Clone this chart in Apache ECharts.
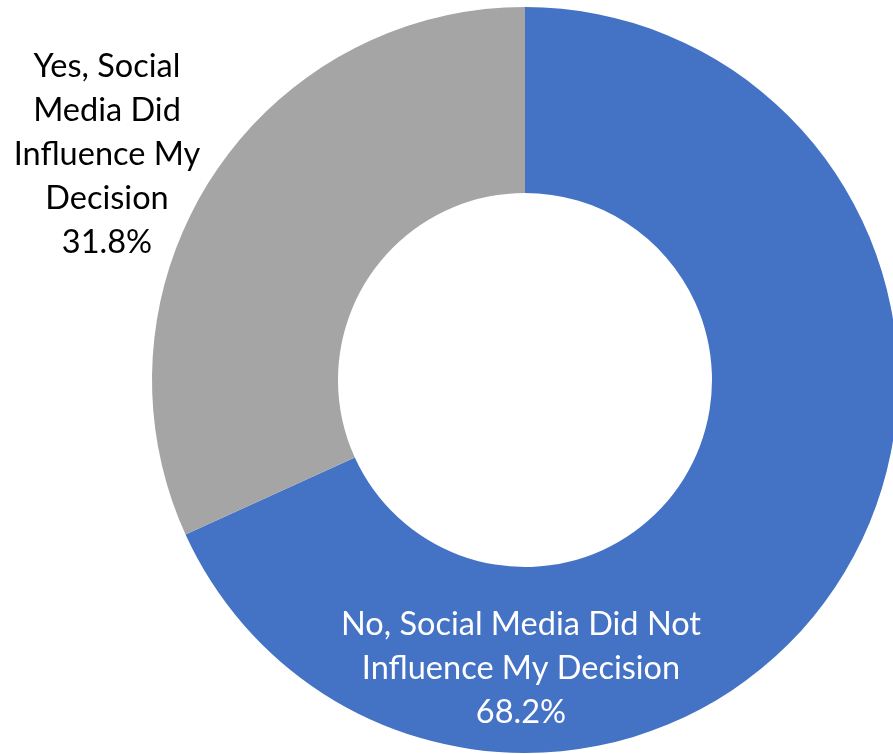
<!DOCTYPE html>
<html>
<head>
<meta charset="utf-8">
<script src="https://cdn.jsdelivr.net/npm/echarts@6/dist/echarts.min.js"></script>
<style>
  html, body { margin: 0; padding: 0; background: #ffffff; }
  #chart { width: 893px; height: 754px; }
</style>
</head>
<body>
<div id="chart"></div>
<script>
// Survey answers (share of respondents, %)
const categories = [
  'No, Social Media Did Not\nInfluence My Decision',
  'Yes, Social\nMedia Did\nInfluence My\nDecision'
];
const shares = [68.2, 31.8];
const sliceColors = ['#4472C4', '#A5A5A5'];
const labelColors = ['#ffffff', '#000000'];
// Where each label block is centred
const labelSpots = [[521, 669], [107, 155]];

const chart = echarts.init(document.getElementById('chart'), null, { renderer: 'canvas' });

chart.setOption({
  animation: false,
  backgroundColor: '#ffffff',
  series: [{
    type: 'pie',
    center: [525, 380],
    radius: [187, 373],
    startAngle: 90,
    clockwise: true,
    avoidLabelOverlap: false,
    itemStyle: { borderWidth: 0 },
    label: {
      show: true,
      position: 'inside',
      fontFamily: 'Lato, "Open Sans", sans-serif',
      fontSize: 32.5,
      lineHeight: 44,
      align: 'center',
      formatter: p => p.name + '\n' + p.value.toFixed(1) + '%'
    },
    labelLine: { show: false },
    labelLayout: p => ({
      x: labelSpots[p.dataIndex][0],
      y: labelSpots[p.dataIndex][1],
      align: 'center',
      verticalAlign: 'middle'
    }),
    emphasis: { disabled: true },
    data: categories.map((name, i) => ({
      name: name,
      value: shares[i],
      itemStyle: { color: sliceColors[i] },
      label: { color: labelColors[i] }
    }))
  }]
});
</script>
</body>
</html>
